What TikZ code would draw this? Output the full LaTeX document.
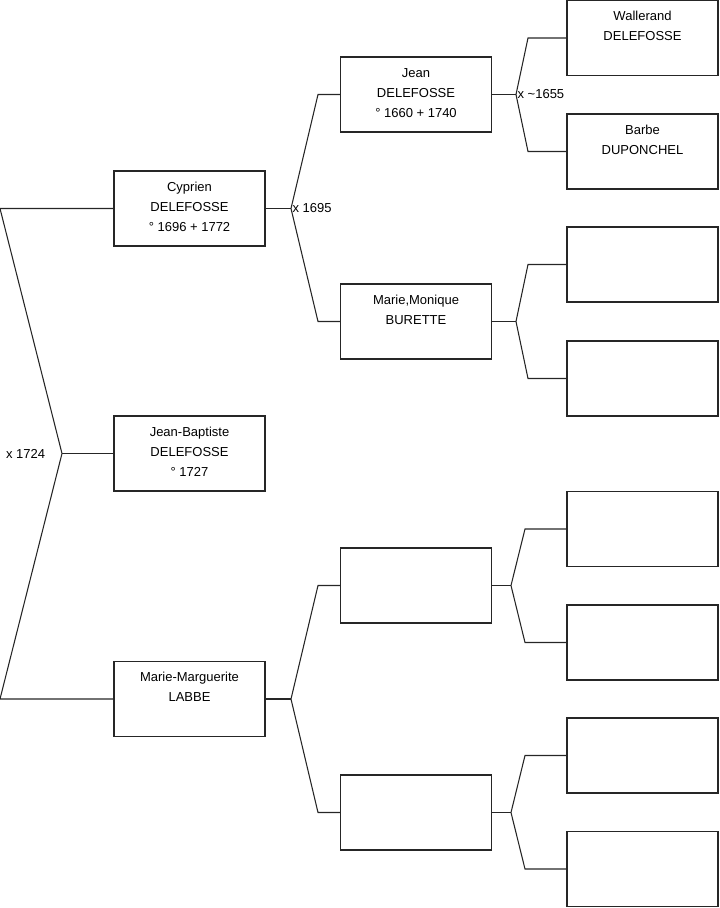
\documentclass[tikz,border=0pt]{standalone}
\usepackage{fontspec}
\setmainfont{Liberation Sans}
\usetikzlibrary{positioning}
\tikzset{
  person/.style={draw=black!85, line width=0.8pt, minimum width=113.25pt, minimum height=56.25pt, inner sep=0pt},
  names/.style={anchor=north, yshift=-6.5pt, align=center, inner sep=2pt, font=\fontsize{9.75}{15}\selectfont},
  link/.style={draw=black!85, line width=0.8pt},
  union/.style={font=\fontsize{9.75}{12}\selectfont, inner sep=1pt}
}

\begin{document}
\begin{tikzpicture}[x=0.75pt, y=-0.75pt]
  \useasboundingbox (0,0) rectangle (719,908);
  % children
  \node[person, label={[names]north:{Cyprien\\DELEFOSSE\\° 1696 + 1772}}] (cyprien) at (189.5,208.5) {};
  \node[person, label={[names]north:{Jean-Baptiste\\DELEFOSSE\\° 1727}}] (jeanbaptiste) at (189.5,453.5) {};
  \node[person, label={[names]north:{Marie-Marguerite\\LABBE}}] (marguerite) at (189.5,699) {};
  % parents
  \node[person, label={[names]north:{Jean\\DELEFOSSE\\° 1660 + 1740}}] (jean) at (416,94.5) {};
  \node[person, label={[names]north:{Marie,Monique\\BURETTE}}] (monique) at (416,321.5) {};
  \node[person] (labbe) at (416,585.5) {};
  \node[person] (labbewife) at (416,812.5) {};
  % grandparents
  \node[person, label={[names]north:{Wallerand\\DELEFOSSE}}] (wallerand) at (642.5,38) {};
  \node[person, label={[names]north:{Barbe\\DUPONCHEL}}] (barbe) at (642.5,151.5) {};
  \node[person] (gpa3) at (642.5,264.5) {};
  \node[person] (gma3) at (642.5,378.5) {};
  \node[person] (gpa5) at (642.5,529) {};
  \node[person] (gma5) at (642.5,642.5) {};
  \node[person] (gpa7) at (642.5,755.5) {};
  \node[person] (gma7) at (642.5,869) {};

  % marriage 1724
  \coordinate (top0) at (0,208.5);
  \coordinate (bot0) at (0,699);
  \coordinate (j0) at (62,453.5);
  \draw[link] (cyprien.west) -- (top0) -- (j0) -- (bot0) -- (marguerite.west);
  \draw[link] (j0) -- (jeanbaptiste.west);
  \node[union, anchor=east] (m1724) at ([xshift=-11.5pt]j0) {x 1724};

  % marriage 1695
  \coordinate (j1) at (291,208.5);
  \coordinate (u1) at (318,94.5);
  \coordinate (d1) at (318,321.5);
  \draw[link] (cyprien.east) -- (j1);
  \draw[link] (jean.west) -- (u1) -- (j1) -- (d1) -- (monique.west);
  \node[union, anchor=west] (m1695) at (j1) {x 1695};

  % marriage ~1655
  \coordinate (j2) at (516,94.5);
  \coordinate (u2) at (528,38);
  \coordinate (d2) at (528,151.5);
  \draw[link] (jean.east) -- (j2);
  \draw[link] (wallerand.west) -- (u2) -- (j2) -- (d2) -- (barbe.west);
  \node[union, anchor=west] (m1655) at (j2) {x \textasciitilde1655};

  \coordinate (j3) at (516,321.5);
  \coordinate (u3) at (528,264.5);
  \coordinate (d3) at (528,378.5);
  \draw[link] (monique.east) -- (j3);
  \draw[link] (gpa3.west) -- (u3) -- (j3) -- (d3) -- (gma3.west);

  \coordinate (j4) at (291,699);
  \coordinate (u4) at (318,585.5);
  \coordinate (d4) at (318,812.5);
  \draw[link] (marguerite.east) -- (j4);
  \draw[link] (labbe.west) -- (u4) -- (j4) -- (d4) -- (labbewife.west);

  \coordinate (j5) at (511,585.5);
  \coordinate (u5) at (525,529);
  \coordinate (d5) at (525,642.5);
  \draw[link] (labbe.east) -- (j5);
  \draw[link] (gpa5.west) -- (u5) -- (j5) -- (d5) -- (gma5.west);

  \coordinate (j6) at (511,812.5);
  \coordinate (u6) at (525,755.5);
  \coordinate (d6) at (525,869);
  \draw[link] (labbewife.east) -- (j6);
  \draw[link] (gpa7.west) -- (u6) -- (j6) -- (d6) -- (gma7.west);
\end{tikzpicture}
\end{document}
